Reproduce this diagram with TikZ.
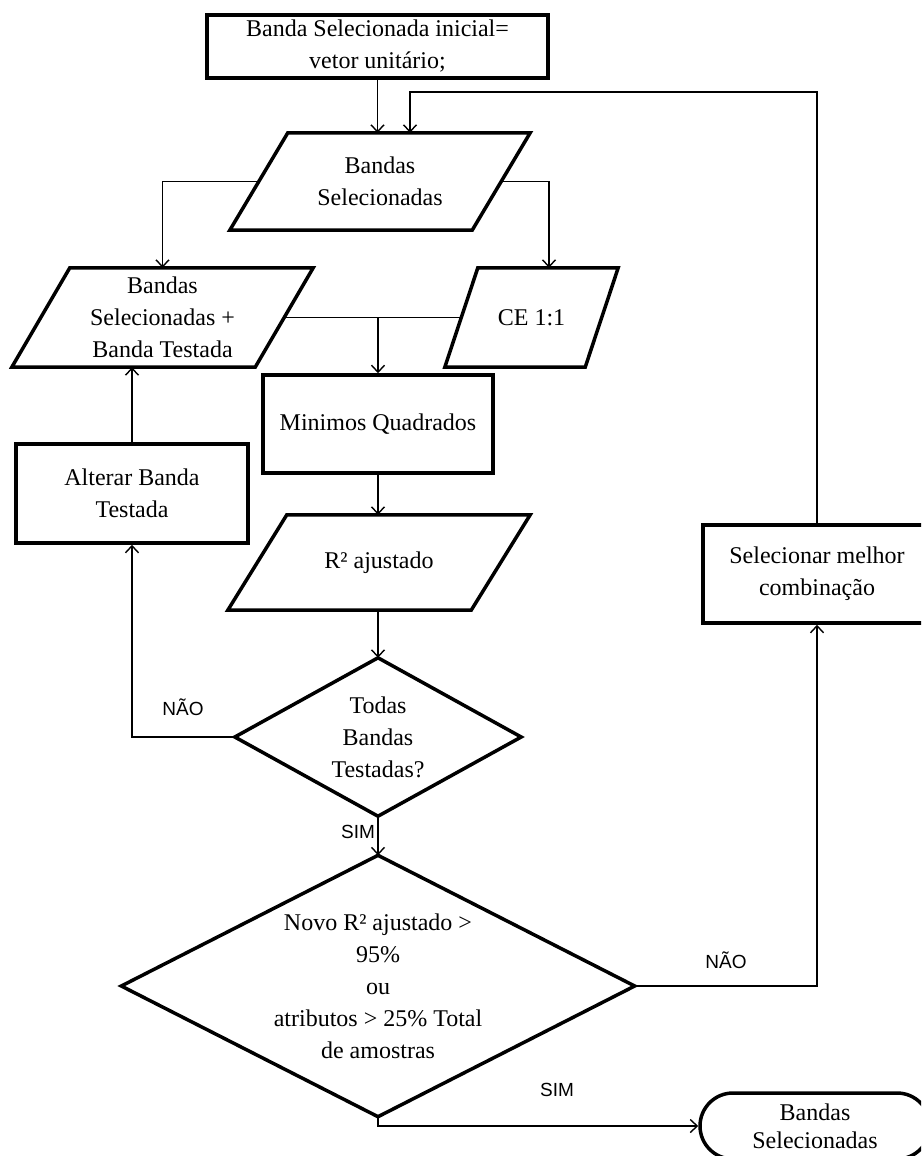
\documentclass[tikz,border=0pt]{standalone}
\usepackage{fontspec}
\setmainfont{Liberation Serif}
\newfontfamily\labelfont{Liberation Sans}
\usetikzlibrary{arrows.meta,calc}
\begin{document}
\begin{tikzpicture}[x=1pt,y=-1pt,
  txt/.style={font=\fontsize{24}{32}\selectfont, align=center, inner sep=0pt},
  border/.style={line width=3.5pt, line join=miter},
  boxed/.style={txt, draw, border},
  conn/.style={line width=1.4pt},
  arr/.style={conn, -{Straight Barb[length=7pt,width=13pt,line width=1.4pt]}},
  lbl/.style={font=\labelfont\fontsize{19}{22}\selectfont, inner sep=0pt}]
\useasboundingbox (0,0) rectangle (921,1156);
\fill[white] (0,0) rectangle (921,1156);
\clip (0,0) rectangle (921,1156);

% nodes
\node[boxed, minimum width=341pt, minimum height=63pt] (T) at (377.5,46.5) {Banda Selecionada inicial=\\vetor unitário;};

\node[txt, minimum width=300pt, minimum height=97pt] (P1) at (380,181.5) {Bandas\\Selecionadas};
\draw[border] (P1.south west) -- ($(P1.south east)+(-58,0)$) -- (P1.north east) -- ($(P1.north west)+(58,0)$) -- cycle;

\node[txt, minimum width=301pt, minimum height=99pt] (P2) at (162.5,317.5) {Bandas\\Selecionadas +\\Banda Testada};
\draw[border] (P2.south west) -- ($(P2.south east)+(-58,0)$) -- (P2.north east) -- ($(P2.north west)+(58,0)$) -- cycle;

\node[txt, minimum width=173pt, minimum height=99pt] (CE) at (531.5,317.5) {CE 1:1};
\draw[border] (CE.south west) -- ($(CE.south east)+(-33,0)$) -- (CE.north east) -- ($(CE.north west)+(33,0)$) -- cycle;

\node[boxed, minimum width=230pt, minimum height=98pt] (M) at (378,424) {Minimos Quadrados};

\node[txt, minimum width=302pt, minimum height=95pt] (R) at (379,562.5) {R² ajustado};
\draw[border] (R.south west) -- ($(R.south east)+(-59,0)$) -- (R.north east) -- ($(R.north west)+(59,0)$) -- cycle;

\node[boxed, minimum width=232pt, minimum height=99pt] (A) at (132,493.5) {Alterar Banda\\Testada};

\node[txt, minimum width=286pt, minimum height=158pt] (D1) at (378,737) {Todas\\Bandas\\Testadas?};
\draw[border] (D1.north) -- (D1.east) -- (D1.south) -- (D1.west) -- cycle;

\node[txt, minimum width=513pt, minimum height=261pt] (D2) at (378,986) {Novo R² ajustado >\\95\%\\ou\\atributos > 25\% Total\\de amostras};
\draw[border] (D2.north) -- (D2.east) -- (D2.south) -- (D2.west) -- cycle;

\node[boxed, minimum width=228pt, minimum height=98pt] (S) at (817,574) {Selecionar melhor\\combinação};

\node[boxed, font=\fontsize{24}{28}\selectfont, rounded corners=33pt, minimum width=230pt, minimum height=66pt] (E) at (815,1126) {Bandas\\Selecionadas};

% labels
\node[lbl] (no1) at (183,707) {NÃO};
\node[lbl] (sim1) at (358,832) {SIM};
\node[lbl] (no2) at (726,960) {NÃO};
\node[lbl] (sim2) at (557,1090) {SIM};

% connection points
\coordinate (P1l) at ($(P1.west)+(29,0)$);
\coordinate (P1r) at ($(P1.east)+(-29,0)$);
\coordinate (P2r) at ($(P2.east)+(-29,0)$);
\coordinate (CEl) at ($(CE.west)+(16.5,0)$);
\coordinate (CEin) at ($(CE.north)+(17.5,0)$);
\coordinate (Fb) at ($(P1.north)+(30,0)$);
\coordinate (FbC) at (817,92);

% connectors
\draw[arr] (T.south) -- (T.south |- P1.north);
\draw[arr] (S.north) -- (FbC) -| (Fb);
\draw[arr] (P1l) -| (P2.north);
\draw[arr] (P1r) -| (CEin);
\draw[conn] (P2r) -- (CEl);
\draw[arr] (M.north |- P2r) -- (M.north);
\draw[arr] (M.south) -- (M.south |- R.north);
\draw[arr] (D1.north |- R.south) -- (D1.north);
\draw[arr] (D1.west) -| (A.south);
\draw[arr] (A.north) -- (A.north |- P2.south);
\draw[arr] (D1.south) -- (D2.north);
\draw[arr] (D2.east) -| (S.south);
\draw[arr] (D2.south) |- (E.west);
\end{tikzpicture}
\end{document}
